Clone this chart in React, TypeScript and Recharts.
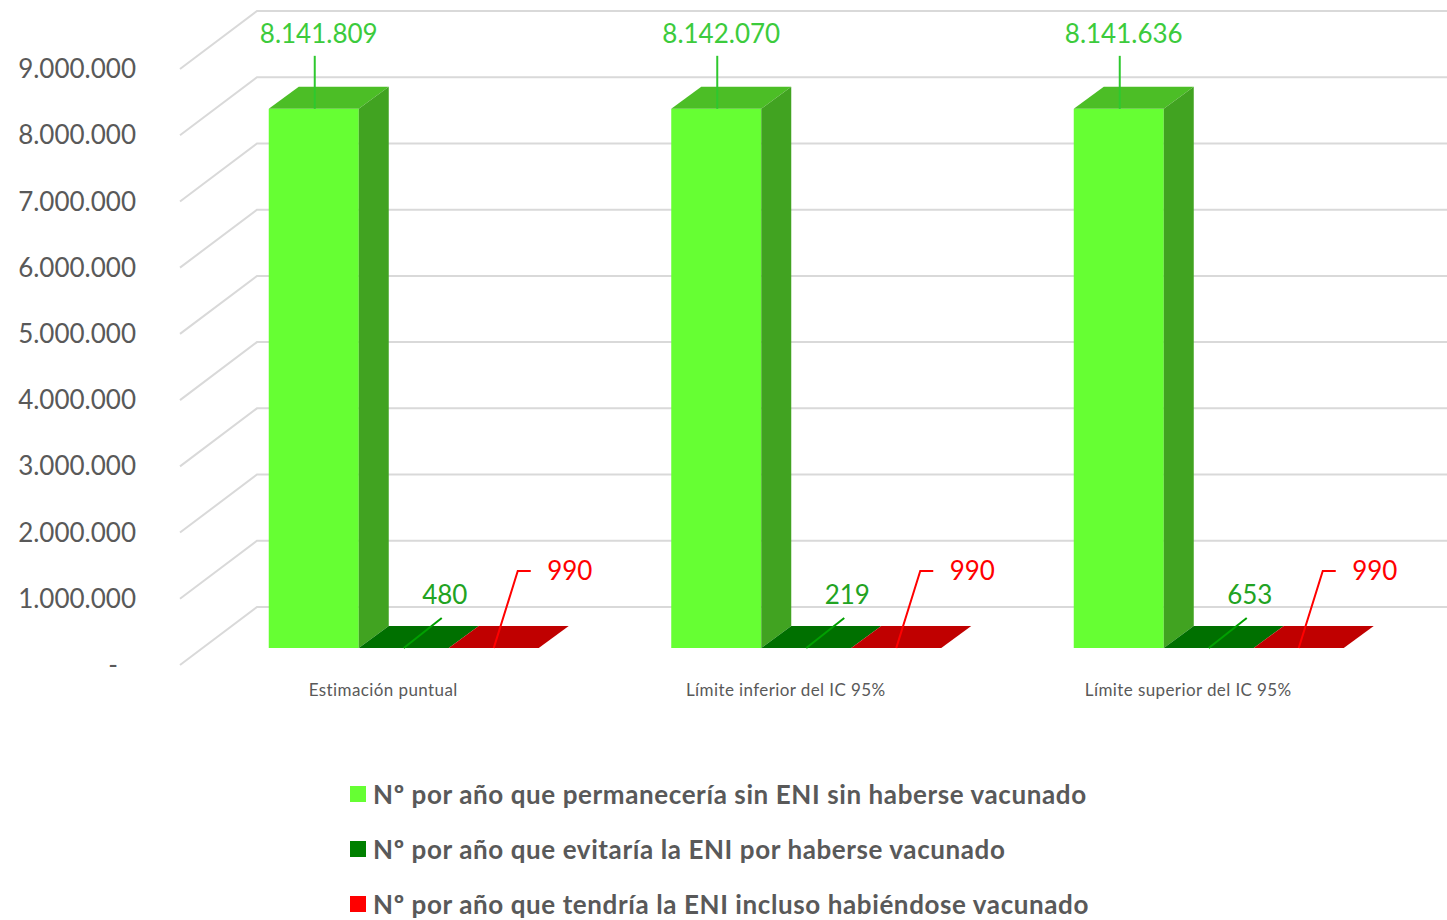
import React from 'react';
import { BarChart, Bar, XAxis, YAxis, CartesianGrid, LabelList, Legend } from 'recharts';

const categories = ['Estimación puntual', 'Límite inferior del IC 95%', 'Límite superior del IC 95%'];
const sinVacunar = [8141809, 8142070, 8141636];
const evitaria = [480, 219, 653];
const tendria = [990, 990, 990];
const yTicks = [0, 1000000, 2000000, 3000000, 4000000, 5000000, 6000000, 7000000, 8000000, 9000000];

const seriesNames = [
  'Nº por año que permanecería sin ENI sin haberse vacunado',
  'Nº por año que evitaría la ENI por haberse vacunado',
  'Nº por año que tendría la ENI incluso habiéndose vacunado',
];

const data = categories.map((name, i) => ({
  name,
  sinVacunar: sinVacunar[i],
  evitaria: evitaria[i],
  tendria: tendria[i],
}));

// fake 3d: offsets of the bar front, bar depth and the back wall
const FRONT_DX = 22.5;
const FRONT_DY = 17;
const DEPTH_DX = 30;
const DEPTH_DY = 22;
const WALL_DX = 77;
const WALL_DY = 58;

const FONT = 'Lato, "Open Sans", sans-serif';
const GRAY = '#595959';

const fmt = (n: number) => String(Math.round(n)).replace(/\B(?=(\d{3})+(?!\d))/g, '.');

const box = (front: string, top: string, side: string) => (props: any) => {
  const { x, y, width, height } = props;
  const x0 = x + FRONT_DX;
  const y0 = y - FRONT_DY;
  const h = Math.max(height || 0, 0);
  const x1 = x0 + width;
  const yb = y0 + h;
  return (
    <g>
      <rect x={x0} y={y0} width={width} height={h} fill={front} />
      <polygon
        points={`${x0},${y0} ${x1},${y0} ${x1 + DEPTH_DX},${y0 - DEPTH_DY} ${x0 + DEPTH_DX},${y0 - DEPTH_DY}`}
        fill={top}
      />
      <polygon
        points={`${x1},${y0} ${x1 + DEPTH_DX},${y0 - DEPTH_DY} ${x1 + DEPTH_DX},${yb - DEPTH_DY} ${x1},${yb}`}
        fill={side}
      />
    </g>
  );
};

const geo = (props: any) => {
  const vb = props.viewBox ?? props;
  return { x: vb.x + FRONT_DX, y: vb.y - FRONT_DY, w: vb.width, h: vb.height };
};

const BigLabel = (props: any) => {
  const { x, y, w } = geo(props);
  const cx = x + w / 2;
  return (
    <g>
      <line x1={cx + 1} y1={y} x2={cx + 1} y2={y - 53} stroke="#2EC82E" strokeWidth={2} />
      <text x={cx + 5} y={y - 75} dy="0.35em" textAnchor="middle" fill="#3CCB3C" fontSize={26} fontFamily={FONT}>
        {fmt(props.value)}
      </text>
    </g>
  );
};

const SmallGreenLabel = (props: any) => {
  const { x, y, w, h } = geo(props);
  const cx = x + w / 2;
  const yb = y + h;
  return (
    <g>
      <line x1={cx} y1={yb} x2={cx + 38} y2={yb - 30} stroke="#00A000" strokeWidth={2} />
      <text x={cx + 41} y={yb - 53} dy="0.35em" textAnchor="middle" fill="#22A322" fontSize={26} fontFamily={FONT}>
        {fmt(props.value)}
      </text>
    </g>
  );
};

const RedLabel = (props: any) => {
  const { x, y, w, h } = geo(props);
  const cx = x + w / 2;
  const yb = y + h;
  return (
    <g>
      <polyline
        points={`${cx},${yb} ${cx + 24},${yb - 77} ${cx + 37},${yb - 77}`}
        fill="none"
        stroke="#FF0000"
        strokeWidth={2}
      />
      <text x={cx + 76} y={yb - 77} dy="0.35em" textAnchor="middle" fill="#FF0000" fontSize={26} fontFamily={FONT}>
        {fmt(props.value)}
      </text>
    </g>
  );
};

const gridLine = (props: any) => {
  const { x1, y1, index } = props;
  return (
    <polyline
      key={`g-${index}`}
      points={`${x1},${y1} ${x1 + WALL_DX},${y1 - WALL_DY} 1447,${y1 - WALL_DY}`}
      fill="none"
      stroke="#D9D9D9"
      strokeWidth={2}
    />
  );
};

const YTick = ({ x, y, payload }: any) => (
  <text
    x={payload.value === 0 ? x - 18 : x}
    y={y}
    dy="0.35em"
    textAnchor="end"
    fill={GRAY}
    fontSize={26}
    fontFamily={FONT}
  >
    {payload.value === 0 ? '-' : fmt(payload.value)}
  </text>
);

const XTick = ({ x, y, payload }: any) => (
  <text
    x={x + 2}
    y={y + 31}
    textAnchor="middle"
    fill={GRAY}
    fontSize={17}
    letterSpacing={0.4}
    fontFamily={FONT}
  >
    {payload.value}
  </text>
);

const LegendRows = ({ payload }: any) => {
  const items = [...(payload || [])].sort(
    (a: any, b: any) => seriesNames.indexOf(a.value) - seriesNames.indexOf(b.value)
  );
  return (
    <div>
      {items.map((p: any) => (
        <div key={p.value} style={{ display: 'flex', alignItems: 'center', height: 55 }}>
          <span style={{ width: 16, height: 16, background: p.color, marginRight: 7, display: 'inline-block' }} />
          <span
            style={{
              color: GRAY,
              fontSize: 26,
              fontWeight: 700,
              letterSpacing: 0.6,
              fontFamily: FONT,
              whiteSpace: 'nowrap',
            }}
          >
            {p.value}
          </span>
        </div>
      ))}
    </div>
  );
};

export default function App() {
  return (
    <div style={{ position: 'absolute', left: 0, top: 0, width: 1447, height: 920, background: '#fff' }}>
      <BarChart
        width={1447}
        height={920}
        data={data}
        margin={{ top: 69, right: 59.5, bottom: 0, left: 0 }}
        barCategoryGap="16.46%"
        barGap={0}
      >
        <CartesianGrid vertical={false} horizontal={gridLine} />
        <XAxis dataKey="name" height={255} axisLine={false} tickLine={false} tickSize={0} tickMargin={0} tick={<XTick />} />
        <YAxis
          domain={[0, 9000000]}
          ticks={yTicks}
          width={180}
          axisLine={false}
          tickLine={false}
          tickSize={0}
          tickMargin={44}
          tick={<YTick />}
          interval={0}
        />
        <Legend
          layout="vertical"
          align="center"
          verticalAlign="middle"
          wrapperStyle={{ top: 766, left: 350, width: 1000 }}
          content={<LegendRows />}
        />
        <Bar
          dataKey="sinVacunar"
          name={seriesNames[0]}
          fill="#66FF33"
          shape={box('#66FF33', '#4CBE26', '#41A321')}
          isAnimationActive={false}
        >
          <LabelList dataKey="sinVacunar" content={<BigLabel />} />
        </Bar>
        <Bar
          dataKey="evitaria"
          name={seriesNames[1]}
          fill="#008000"
          shape={box('#008000', '#007000', '#006000')}
          isAnimationActive={false}
        >
          <LabelList dataKey="evitaria" content={<SmallGreenLabel />} />
        </Bar>
        <Bar
          dataKey="tendria"
          name={seriesNames[2]}
          fill="#FF0000"
          shape={box('#FF0000', '#C00000', '#A00000')}
          isAnimationActive={false}
        >
          <LabelList dataKey="tendria" content={<RedLabel />} />
        </Bar>
      </BarChart>
    </div>
  );
}
